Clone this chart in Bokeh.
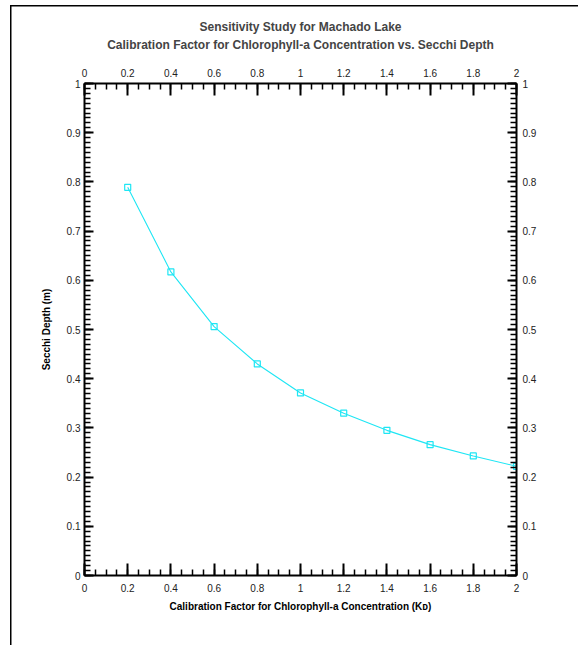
from bokeh.plotting import figure
from bokeh.models import (Range1d, LinearAxis, SingleIntervalTicker, NumeralTickFormatter, Title)
from bokeh.embed import file_html
from bokeh.resources import INLINE

# ---- data ----
calibration_factor = [0.2, 0.4, 0.6, 0.8, 1.0, 1.2, 1.4, 1.6, 1.8, 2.0]
secchi_depth = [0.789, 0.617, 0.506, 0.430, 0.371, 0.330, 0.295, 0.266, 0.243, 0.222]

title_line1 = "Sensitivity Study for Machado Lake"
title_line2 = "Calibration Factor for Chlorophyll-a Concentration vs. Secchi Depth"
x_label = "Calibration Factor for Chlorophyll-a Concentration (K\u1d05)"
y_label = "Secchi Depth (m)"

FONT = "Liberation Sans"
LINE_COLOR = "#1EE6F4"

p = figure(width=578, height=645, x_range=Range1d(0, 2), y_range=Range1d(0, 1),
           x_axis_location=None, y_axis_location=None, title=None,
           output_backend="svg", toolbar_location=None,
           min_border_left=84, min_border_right=62, min_border_top=83, min_border_bottom=70)
p.grid.visible = False
p.outline_line_color = None
p.background_fill_color = "white"
p.border_fill_alpha = 0
# document border lines (top and left) drawn behind the transparent canvas border
p.styles = {
    "background": ("linear-gradient(#000, #000) 10px 5px / 1.5px 645px no-repeat, "
                   "linear-gradient(#000, #000) 10px 5px / 570px 1.5px no-repeat, #fff"),
}


def make_axis(kind, label, standoff, label_standoff):
    if kind == "x":
        ticker = SingleIntervalTicker(interval=0.2, num_minor_ticks=4)
        tin, min_in = 12, 6
    else:
        ticker = SingleIntervalTicker(interval=0.1, num_minor_ticks=10)
        tin, min_in = 9, 6
    ax = LinearAxis(ticker=ticker, formatter=NumeralTickFormatter(format="0.[0]"),
                    axis_label=label)
    ax.axis_line_width = 2
    ax.axis_line_color = "black"
    ax.major_tick_in = tin
    ax.major_tick_out = 0
    ax.minor_tick_in = min_in
    ax.minor_tick_out = 0
    ax.major_tick_line_width = 2
    ax.minor_tick_line_width = 1.5
    ax.major_tick_line_color = "black"
    ax.minor_tick_line_color = "black"
    ax.major_label_text_font = FONT
    ax.major_label_text_font_size = "10px"
    ax.major_label_text_color = "#222222"
    ax.major_label_standoff = standoff
    ax.axis_label_text_font = FONT
    ax.axis_label_text_font_size = "10px"
    ax.axis_label_text_font_style = "bold"
    ax.axis_label_text_color = "black"
    ax.axis_label_standoff = label_standoff
    return ax


p.add_layout(make_axis("x", x_label, 8, 6), "below")
top_axis = make_axis("x", " ", 7, 0)
top_axis.axis_label_text_font_size = "8px"
p.add_layout(top_axis, "above")
p.add_layout(make_axis("y", y_label, 4, 12), "left")
p.add_layout(make_axis("y", None, 6, 0), "right")

t2 = Title(text=title_line2, align="center", text_font=FONT, text_font_size="12px",
           text_font_style="bold", standoff=4)
t1 = Title(text=title_line1, align="center", text_font=FONT, text_font_size="12px",
           text_font_style="bold", standoff=0)
p.add_layout(t2, "above")
p.add_layout(t1, "above")

p.line(calibration_factor, secchi_depth, line_color=LINE_COLOR, line_width=1.1)
p.scatter(calibration_factor, secchi_depth, marker="square", size=6,
          fill_color=None, line_color=LINE_COLOR, line_width=1.2)

open("out.html", "w").write(file_html(p, INLINE))
